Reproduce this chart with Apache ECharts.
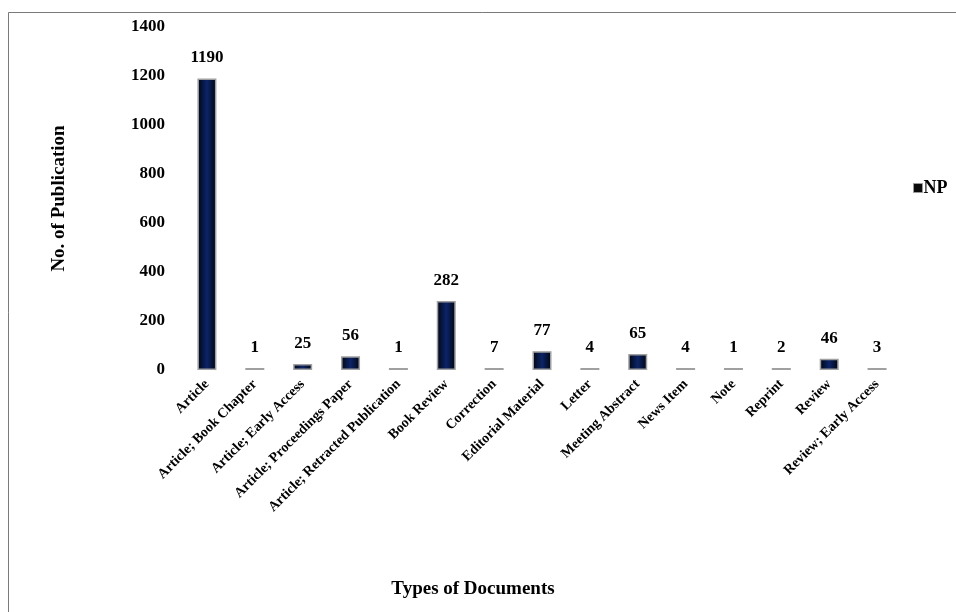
<!DOCTYPE html>
<html>
<head>
<meta charset="utf-8">
<script src="https://cdn.jsdelivr.net/npm/echarts@6/dist/echarts.min.js"></script>
<style>
html,body{margin:0;padding:0;background:#fff;}
#main{width:956px;height:612px;}
</style>
</head>
<body>
<div id="main"></div>
<script>
var categories = ["Article","Article; Book Chapter","Article; Early Access","Article; Proceedings Paper","Article; Retracted Publication","Book Review","Correction","Editorial Material","Letter","Meeting Abstract","News Item","Note","Reprint","Review","Review; Early Access"];
var npValues = [1190,1,25,56,1,282,7,77,4,65,4,1,2,46,3];
var yTicks = {min:0, max:1400, interval:200};
var seriesName = "NP";

var FONT = "'Liberation Serif','Times New Roman',serif";
var chart = echarts.init(document.getElementById('main'), null, {renderer:'canvas'});
chart.setOption({
  backgroundColor:'#fff',
  animation:false,
  graphic:[{type:'rect', shape:{x:8.5,y:12.5,width:1000,height:700}, style:{fill:'none',stroke:'#7a7a7a',lineWidth:1}, silent:true, z:-1}],
  grid:{left:183,right:55,top:27,bottom:242,containLabel:false},
  legend:{
    data:[{name:seriesName, itemStyle:{color:'#0a0a0a',borderColor:'#9a9a9a',borderWidth:1}}],
    left:908, top:174, icon:'rect', itemWidth:9, itemHeight:9, itemGap:2,
    textStyle:{fontFamily:FONT,fontWeight:'bold',fontSize:18,color:'#000', padding:[0,0,0,-4]}
  },
  xAxis:{
    type:'category', data:categories,
    name:'Types of Documents', nameLocation:'middle', nameGap:210,
    nameTextStyle:{fontFamily:FONT,fontWeight:'bold',fontSize:19,color:'#000', padding:[0,138,0,0]},
    axisLine:{show:false}, axisTick:{show:false},
    axisLabel:{interval:0, rotate:45, margin:12, fontFamily:FONT, fontWeight:'bold', fontSize:14, color:'#000'}
  },
  yAxis:{
    type:'value', min:yTicks.min, max:yTicks.max, interval:yTicks.interval,
    name:'No. of Publication', nameLocation:'middle', nameGap:104, nameRotate:90,
    nameTextStyle:{fontFamily:FONT,fontWeight:'bold',fontSize:19,color:'#000', padding:[0,0,10,0]},
    axisLine:{show:false}, axisTick:{show:false}, splitLine:{show:false},
    axisLabel:{margin:18, fontFamily:FONT, fontWeight:'bold', fontSize:17, color:'#000',
      formatter:function(v){return String(v);}}
  },
  series:[{
    name:seriesName, type:'bar', data:npValues, barWidth:19, barMinHeight:2,
    itemStyle:{
      color:new echarts.graphic.LinearGradient(0,0,1,0,[
        {offset:0,color:'#000510'},{offset:0.5,color:'#0c2468'},{offset:1,color:'#000510'}
      ]),
      borderColor:'#a0a0a0', borderWidth:1.5
    },
    label:{show:true, position:'top', distance:12, fontFamily:FONT, fontWeight:'bold', fontSize:17, color:'#000'}
  }]
});
</script>
</body>
</html>
